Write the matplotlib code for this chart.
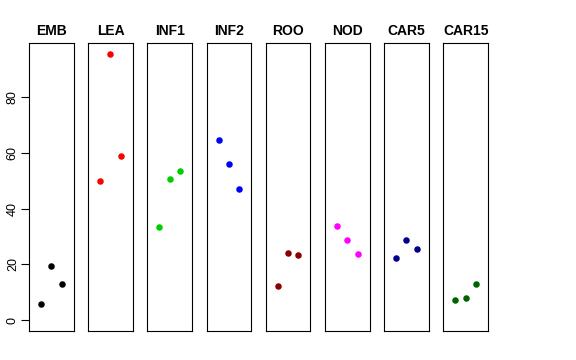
import matplotlib
matplotlib.use("Agg")
import matplotlib.pyplot as plt
import numpy as np

plt.rcParams['font.family'] = ['Liberation Sans', 'DejaVu Sans']

# tissue groups, three samples each
groups = ["EMB", "LEA", "INF1", "INF2", "ROO", "NOD", "CAR5", "CAR15"]
values = {
    "EMB":   [5.8, 19.4, 13.0],
    "LEA":   [49.9, 95.4, 58.7],
    "INF1":  [33.3, 50.4, 53.4],
    "INF2":  [64.6, 55.9, 47.1],
    "ROO":   [12.3, 24.1, 23.4],
    "NOD":   [33.8, 28.9, 23.6],
    "CAR5":  [22.4, 28.8, 25.4],
    "CAR15": [7.4, 8.1, 13.0],
}
colors = ["black", "red", "#00CD00", "blue", "#8B0000", "magenta", "#00008B", "#006400"]
yticks = [0, 20, 40, 60, 80]

W, H = 576, 360
fig = plt.figure(figsize=(W / 100, H / 100), dpi=100)

# R-style 4% padding on the shared y range
ymax = max(max(v) for v in values.values())
pad = 0.04 * ymax
ylim = (0 - pad, ymax + pad)

left0, step, pw = 29, 59.2, 44.5
top, bottom = 43, 331

for i, (g, c) in enumerate(zip(groups, colors)):
    x0 = left0 + i * step
    ax = fig.add_axes([x0 / W, 1 - bottom / H, pw / W, (bottom - top) / H])
    y = values[g]
    ax.scatter(np.arange(1, len(y) + 1), y, s=22, color=c, zorder=3, linewidths=0)
    ax.set_xlim(0 - 0.16, 4 + 0.16)
    ax.set_ylim(*ylim)
    ax.set_xticks([])
    for sp in ax.spines.values():
        sp.set_linewidth(0.8)
        sp.set_color("black")
    ax.set_title(g, fontsize=10, fontweight="bold", pad=6)
    if i == 0:
        ax.set_yticks(yticks)
        ax.set_yticklabels([str(t) for t in yticks], rotation=90, va="center", fontsize=9)
        ax.tick_params(axis="y", length=5.8, width=0.8, pad=1.5, direction="out")
    else:
        ax.set_yticks([])

fig.savefig("out.png", dpi=100)
